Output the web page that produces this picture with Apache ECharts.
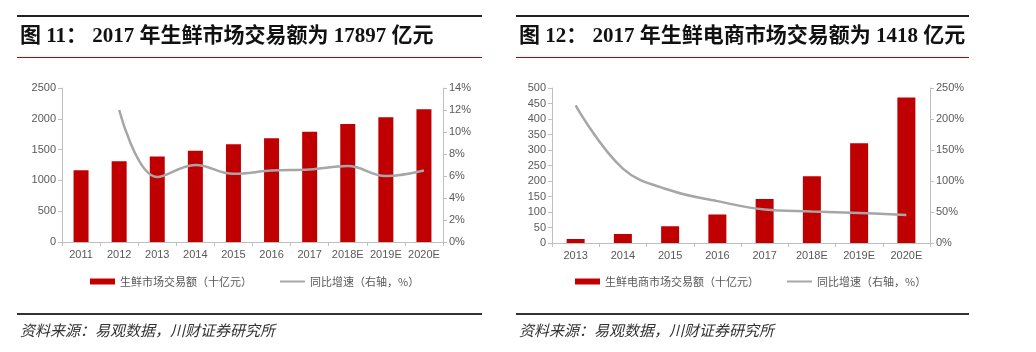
<!DOCTYPE html>
<html>
<head>
<meta charset="utf-8">
<script src="https://cdn.jsdelivr.net/npm/echarts@6/dist/echarts.min.js"></script>
<style>
  html, body { margin: 0; padding: 0; background: #fff; }
  #main { width: 1036px; height: 352px; }
</style>
</head>
<body>
<div id="main"></div>
<script>
// chart 11: fresh food market
const years1 = ['2011', '2012', '2013', '2014', '2015', '2016', '2017', '2018E', '2019E', '2020E']
const market1 = [1165, 1312, 1390, 1482, 1585, 1684, 1790, 1915, 2026, 2157]
const growth1 = [null, 12.0, 5.9, 7.0, 6.2, 6.5, 6.6, 6.9, 6.0, 6.5]
const leftTicks1 = [0, 500, 1000, 1500, 2000, 2500]
const rightTicks1 = [0, 2, 4, 6, 8, 10, 12, 14]

// chart 12: fresh food e-commerce
const years2 = ['2013', '2014', '2015', '2016', '2017', '2018E', '2019E', '2020E']
const ecom2 = [13, 29, 54, 92, 142, 215, 322, 469]
const growth2 = [222, 120, 85, 67.5, 54, 51, 48.5, 45]
const leftTicks2 = [0, 50, 100, 150, 200, 250, 300, 350, 400, 450, 500]
const rightTicks2 = [0, 50, 100, 150, 200, 250]

const RED = '#C00000'
const GREY = '#A6A6A6'
const AXIS = '#BFBFBF'
const LABEL = '#595959'

function catAxis(gridIndex, data) {
  return {
    type: 'category', gridIndex, data,
    axisLine: { lineStyle: { color: AXIS } },
    axisTick: { show: true, length: 4, lineStyle: { color: AXIS } },
    axisLabel: { color: LABEL, fontSize: 11, fontFamily: 'Liberation Sans', margin: 7, interval: 0 }
  }
}

function valAxis(gridIndex, ticks, pos, suffix) {
  return {
    type: 'value', gridIndex, position: pos,
    min: ticks[0], max: ticks[ticks.length - 1], interval: ticks[1] - ticks[0],
    splitLine: { show: false },
    axisLine: { show: true, lineStyle: { color: AXIS } },
    axisTick: { show: true, length: 4, lineStyle: { color: AXIS } },
    axisLabel: { color: LABEL, fontSize: 11, fontFamily: 'Liberation Sans', margin: 6,
      formatter: v => String(v) + suffix }
  }
}

function panelFrame(x1, x2, title) {
  return [
    { type: 'line', shape: { x1, y1: 16, x2, y2: 16 }, style: { stroke: '#222', lineWidth: 2 } },
    { type: 'text', left: x1 + 3, top: 26,
      style: { text: title, fill: '#111', font: 'bold 21px "Liberation Serif", "Noto Sans CJK SC"' } },
    { type: 'line', shape: { x1, y1: 57.5, x2, y2: 57.5 }, style: { stroke: RED, lineWidth: 1 } },
    { type: 'line', shape: { x1, y1: 314, x2, y2: 314 }, style: { stroke: '#333', lineWidth: 2 } },
    { type: 'text', left: x1 + 3, top: 323,
      style: { text: '资料来源：易观数据，川财证券研究所', fill: '#333', font: 'italic 15px "Noto Sans CJK SC"' } }
  ]
}

const chart = echarts.init(document.getElementById('main'))
chart.setOption({
  animation: false,
  graphic: [
    ...panelFrame(17, 482, '图 11： 2017 年生鲜市场交易额为 17897 亿元'),
    ...panelFrame(516, 969, '图 12： 2017 年生鲜电商市场交易额为 1418 亿元')
  ],
  grid: [
    { left: 62, right: 593, top: 88, bottom: 110 },
    { left: 552, right: 106, top: 88, bottom: 109 }
  ],
  legend: [
    { left: 85, top: 271, itemWidth: 25, itemHeight: 6, itemGap: 28,
      textStyle: { color: LABEL, fontSize: 11, fontFamily: 'Noto Sans CJK SC' },
      data: [{ name: '生鲜市场交易额（十亿元）', icon: 'rect' },
        { name: '同比增速（右轴，%）', icon: 'path://M0,0H25V2H0Z', itemStyle: { color: GREY } }] },
    { left: 570, top: 271, itemWidth: 25, itemHeight: 6, itemGap: 28,
      textStyle: { color: LABEL, fontSize: 11, fontFamily: 'Noto Sans CJK SC' },
      data: [{ name: '生鲜电商市场交易额（十亿元）', icon: 'rect' },
        { name: '同比增速（右轴，%） ', icon: 'path://M0,0H25V2H0Z', itemStyle: { color: GREY } }] }
  ],
  xAxis: [catAxis(0, years1), catAxis(1, years2)],
  yAxis: [
    valAxis(0, leftTicks1, 'left', ''),
    valAxis(0, rightTicks1, 'right', '%'),
    valAxis(1, leftTicks2, 'left', ''),
    valAxis(1, rightTicks2, 'right', '%')
  ],
  series: [
    { name: '生鲜市场交易额（十亿元）', type: 'bar', xAxisIndex: 0, yAxisIndex: 0,
      data: market1, barWidth: 15, itemStyle: { color: RED } },
    { name: '同比增速（右轴，%）', type: 'line', xAxisIndex: 0, yAxisIndex: 1,
      data: growth1, smooth: 0.4, symbol: 'none', lineStyle: { color: GREY, width: 2.5 }, itemStyle: { color: GREY } },
    { name: '生鲜电商市场交易额（十亿元）', type: 'bar', xAxisIndex: 1, yAxisIndex: 2,
      data: ecom2, barWidth: 18, itemStyle: { color: RED } },
    { name: '同比增速（右轴，%） ', type: 'line', xAxisIndex: 1, yAxisIndex: 3,
      data: growth2, smooth: 0.4, symbol: 'none', lineStyle: { color: GREY, width: 2.5 }, itemStyle: { color: GREY } }
  ]
})
</script>
</body>
</html>
